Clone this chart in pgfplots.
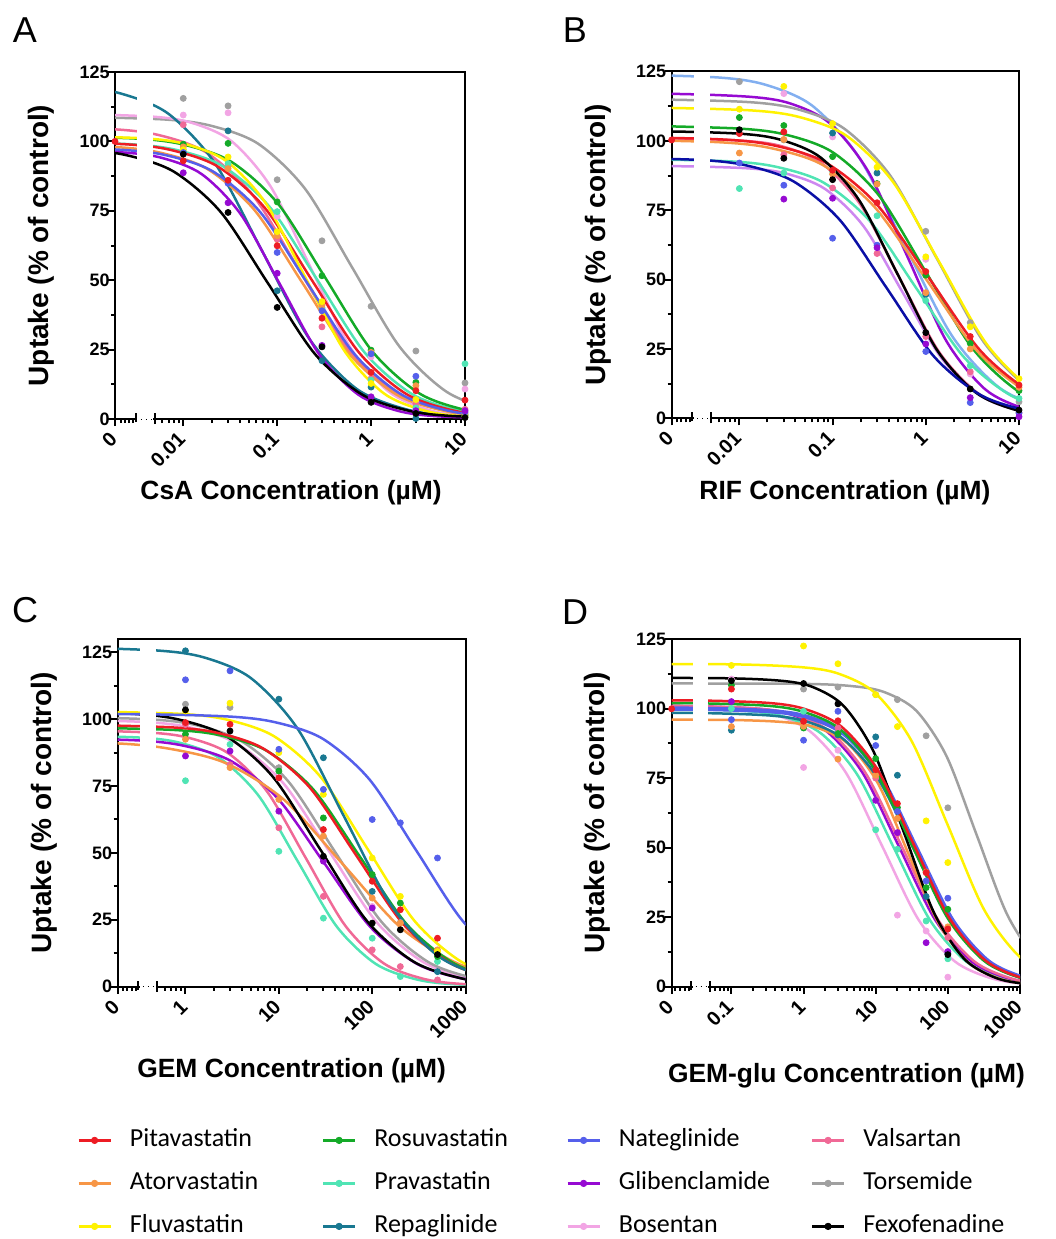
\documentclass[border=0pt]{standalone}
\usepackage{pgfplots}
\pgfplotsset{compat=1.18}
\usepackage{fontspec}
\setmainfont{Liberation Sans}
\newfontfamily\carlito{Carlito}

\definecolor{cPita}{RGB}{237,28,36}
\definecolor{cAtor}{RGB}{247,150,70}
\definecolor{cFluv}{RGB}{255,242,0}
\definecolor{cRosu}{RGB}{20,170,40}
\definecolor{cPrav}{RGB}{80,228,180}
\definecolor{cRepa}{RGB}{25,120,145}
\definecolor{cNate}{RGB}{85,95,235}
\definecolor{cGlib}{RGB}{150,10,210}
\definecolor{cBose}{RGB}{242,165,228}
\definecolor{cVals}{RGB}{240,105,150}
\definecolor{cTors}{RGB}{160,160,160}
\definecolor{cFexo}{RGB}{0,0,0}
\definecolor{cLBlue}{RGB}{130,175,240}
\definecolor{cNavy}{RGB}{10,15,165}
\definecolor{cLav}{RGB}{205,135,240}

\pgfplotsset{
  panel/.style={
    scale only axis,
    ymin=0,
    ytick={0,25,50,75,100,125},
    minor ytick={12.5,37.5,62.5,87.5,112.5},
    axis line style={line width=1pt},
    tick style={black, line width=1pt},
    tick align=outside,
    xtick pos=bottom, ytick pos=left,
    major tick length=3.5pt, minor tick length=2pt,
    yticklabel style={font=\bfseries\fontsize{9}{11}\selectfont, inner sep=1pt, xshift=2pt},
    xticklabel style={font=\bfseries\fontsize{10}{12}\selectfont, rotate=45, anchor=east, inner sep=1pt},
    xticklabel shift=4pt,
    /pgf/number format/assume math mode=true,
    xlabel style={font=\bfseries\fontsize{13.2}{15}\selectfont, anchor=center},
    ylabel style={font=\bfseries\fontsize{14}{16}\selectfont, anchor=center},
    extra x tick style={major tick length=2pt},
  },
  crv/.style={smooth, line width=1.25pt, mark=none},
  pts/.style={only marks, mark=*, mark size=1.5pt},
}

\begin{document}
\begin{tikzpicture}
\path (0pt,0pt) rectangle (514.5pt,-619.5pt);

% ---------------- Panel A ----------------
\begin{axis}[panel, at={(57.5pt,-209.5pt)}, anchor=south west, width=175pt, height=173.5pt,
  xmin=-2.727, xmax=1, ymax=125,
  xtick={-2.727,-2,-1,0,1}, xticklabels={0,0.01,0.1,1,10},
  minor xtick={-2.222,-2.155,-2.097,-2.046,-1.699,-1.523,-1.398,-1.301,-1.222,-1.155,-1.097,-1.046,-0.699,-0.523,-0.398,-0.301,-0.222,-0.155,-0.097,-0.046,0.301,0.477,0.602,0.699,0.778,0.845,0.903,0.954},
  extra x ticks={-2.666,-2.621,-2.575,-2.532}, extra x tick labels={,,,},
  xlabel={CsA Concentration (µM)}, ylabel={Uptake (\% of control)},
  xlabel style={at={(axis description cs:0.503,-0.213)}},
  ylabel style={at={(axis description cs:-0.21,0.5)}}]
\addplot[crv, cTors] coordinates {(-3.2,108.9) (-2.2,107.9) (-1.7,105.6) (-1.2,99.1) (-0.7,82.8) (-0.2,54.5) (0.3,26.2) (0.8,9.9) (1.3,3.4) (1.8,1.1) (2.8,0.1)};
\addplot[crv, cBose] coordinates {(-3.15,109.9) (-2.317,108.9) (-1.9,106.6) (-1.483,100.0) (-1.067,83.6) (-0.65,55.0) (-0.233,26.4) (0.183,10.0) (0.6,3.4) (1.017,1.1) (1.85,0.1)};
\addplot[crv, cVals] coordinates {(-3.75,105.4) (-2.75,104.4) (-2.25,102.2) (-1.75,95.9) (-1.25,80.2) (-0.75,52.8) (-0.25,25.3) (0.25,9.6) (0.75,3.3) (1.25,1.1) (2.25,0.1)};
\addplot[crv, cRepa] coordinates {(-4.16,120.9) (-3.16,119.8) (-2.66,117.2) (-2.16,110.0) (-1.66,92.0) (-1.16,60.5) (-0.66,29.0) (-0.16,11.0) (0.34,3.8) (0.84,1.2) (1.84,0.1)};
\addplot[crv, cPrav] coordinates {(-3.57,99.9) (-2.57,99.0) (-2.07,96.9) (-1.57,90.9) (-1.07,76.0) (-0.57,50.0) (-0.07,24.0) (0.43,9.1) (0.93,3.1) (1.43,1.0) (2.43,0.1)};
\addplot[crv, cRosu] coordinates {(-3.49,101.9) (-2.49,101.0) (-1.99,98.8) (-1.49,92.7) (-0.99,77.5) (-0.49,51.0) (0.01,24.5) (0.51,9.3) (1.01,3.2) (1.51,1.0) (2.51,0.1)};
\addplot[crv, cPita] coordinates {(-3.63,99.9) (-2.63,99.0) (-2.13,96.9) (-1.63,90.9) (-1.13,76.0) (-0.63,50.0) (-0.13,24.0) (0.37,9.1) (0.87,3.1) (1.37,1.0) (2.37,0.1)};
\addplot[crv, cAtor] coordinates {(-3.74,98.9) (-2.74,98.0) (-2.24,95.9) (-1.74,90.0) (-1.24,75.2) (-0.74,49.5) (-0.24,23.8) (0.26,9.0) (0.76,3.1) (1.26,1.0) (2.26,0.1)};
\addplot[crv, cFluv] coordinates {(-3.2,101.9) (-2.367,101.0) (-1.95,98.8) (-1.533,92.7) (-1.117,77.5) (-0.7,51.0) (-0.283,24.5) (0.133,9.3) (0.55,3.2) (0.967,1.0) (1.8,0.1)};
\addplot[crv, cNate] coordinates {(-3.68,97.9) (-2.68,97.0) (-2.18,95.0) (-1.68,89.1) (-1.18,74.5) (-0.68,49.0) (-0.18,23.5) (0.32,8.9) (0.82,3.0) (1.32,1.0) (2.32,0.1)};
\addplot[crv, cGlib] coordinates {(-3.47,96.9) (-2.637,96.0) (-2.22,94.0) (-1.803,88.2) (-1.387,73.7) (-0.97,48.5) (-0.553,23.3) (-0.137,8.8) (0.28,3.0) (0.697,1.0) (1.53,0.1)};
\addplot[crv, cFexo] coordinates {(-4.1,97.9) (-3.1,97.0) (-2.6,95.0) (-2.1,89.1) (-1.6,74.5) (-1.1,49.0) (-0.6,23.5) (-0.1,8.9) (0.4,3.0) (0.9,1.0) (1.9,0.1)};
\addplot[pts, cTors] coordinates {(-2,115.5) (-1.523,112.8) (-1,86.2) (-0.523,64.2) (0,40.6) (0.477,24.5) (1,13)};
\addplot[pts, cBose] coordinates {(-2,109.5) (-1.523,110.3) (-1,73) (-0.523,40) (0,22.4) (0.477,6) (1,10.8)};
\addplot[pts, cVals] coordinates {(-2,106) (-1.523,91) (-1,64.8) (-0.523,33.2) (0,14.5) (0.477,5.5) (1,3.5)};
\addplot[pts, cRepa] coordinates {(-2,96) (-1.523,103.8) (-1,46.2) (-0.523,21) (0,11.5) (0.477,0.2) (1,1)};
\addplot[pts, cPrav] coordinates {(-2,97) (-1.523,92) (-1,74.7) (-0.523,40) (0,14) (0.477,4) (1,19.9)};
\addplot[pts, cRosu] coordinates {(-2,99) (-1.523,99.3) (-1,78.2) (-0.523,51.6) (0,24.8) (0.477,13.2) (1,1.5)};
\addplot[pts, cAtor] coordinates {(-2,98) (-1.523,90.2) (-1,66) (-0.523,41) (0,24) (0.477,12) (1,2)};
\addplot[pts, cFluv] coordinates {(-2,97) (-1.523,94.4) (-1,67.5) (-0.523,42.3) (0,12.8) (0.477,7) (1,0.8)};
\addplot[pts, cNate] coordinates {(-2,96) (-1.523,84.9) (-1,60) (-0.523,39) (0,23.5) (0.477,15.4) (1,2.5)};
\addplot[pts, cGlib] coordinates {(-2,88.7) (-1.523,77.9) (-1,52.5) (-0.523,26.5) (0,8) (0.477,3) (1,3)};
\addplot[pts, cPita] coordinates {(-2.727,100) (-2,93) (-1.523,86) (-1,62.4) (-0.523,36.3) (0,16.8) (0.477,10.2) (1,6.8)};
\addplot[pts, cFexo] coordinates {(-2,95.4) (-1.523,74.4) (-1,40.2) (-0.523,26) (0,6) (0.477,2) (1,0.5)};
\coordinate (gA1) at (axis cs:-2.49,-1.2);
\coordinate (gA2) at (axis cs:-2.32,124.4);
\coordinate (bA1) at (axis cs:-2.504,0);
\coordinate (bA2) at (axis cs:-2.301,0);
\end{axis}
\fill[white] (gA1) rectangle (gA2);
\draw[line width=0.5pt, dotted] (bA1) -- (bA2);
\draw[line width=1pt] ([yshift=-1.5pt]bA1) -- ([yshift=3pt]bA1);
\draw[line width=1pt] ([yshift=-2.5pt]bA2) -- ([yshift=3pt]bA2);

% ---------------- Panel B ----------------
\begin{axis}[panel, at={(335.8pt,-209.2pt)}, anchor=south west, width=173.7pt, height=173.5pt,
  xmin=-2.727, xmax=1, ymax=125,
  xtick={-2.727,-2,-1,0,1}, xticklabels={0,0.01,0.1,1,10},
  minor xtick={-2.222,-2.155,-2.097,-2.046,-1.699,-1.523,-1.398,-1.301,-1.222,-1.155,-1.097,-1.046,-0.699,-0.523,-0.398,-0.301,-0.222,-0.155,-0.097,-0.046,0.301,0.477,0.602,0.699,0.778,0.845,0.903,0.954},
  extra x ticks={-2.666,-2.621,-2.575,-2.532}, extra x tick labels={,,,},
  xlabel={RIF Concentration (µM)}, ylabel={Uptake (\% of control)},
  xlabel style={at={(axis description cs:0.499,-0.213)}},
  ylabel style={at={(axis description cs:-0.212,0.5)}}]
\addplot[crv, cVals] coordinates {(-4,101) (-2.78,100.9) (-1.947,100.0) (-1.53,97.9) (-1.113,91.8) (-0.697,76.8) (-0.28,50.5) (0.137,24.2) (0.553,9.2) (0.97,3.1) (1.387,1.0) (2.22,0.1)};
\addplot[crv, cLBlue] coordinates {(-3.22,123.9) (-2.22,122.8) (-1.72,120.2) (-1.22,112.7) (-0.72,94.2) (-0.22,62.0) (0.28,29.8) (0.78,11.3) (1.28,3.8) (1.78,1.2) (2.78,0.1)};
\addplot[crv, cGlib] coordinates {(-4,117) (-2.7,116.9) (-1.867,115.8) (-1.45,113.4) (-1.033,106.4) (-0.617,88.9) (-0.2,58.5) (0.217,28.1) (0.633,10.6) (1.05,3.6) (1.467,1.2) (2.3,0.1)};
\addplot[crv, cTors] coordinates {(-4,115) (-2.88,114.9) (-1.88,113.9) (-1.38,111.4) (-0.88,104.5) (-0.38,87.4) (0.12,57.5) (0.62,27.6) (1.12,10.5) (1.62,3.6) (2.12,1.2) (3.12,0.1)};
\addplot[crv, cFluv] coordinates {(-4,112) (-2.85,111.9) (-1.85,110.9) (-1.35,108.5) (-0.85,101.8) (-0.35,85.1) (0.15,56.0) (0.65,26.9) (1.15,10.2) (1.65,3.5) (2.15,1.1) (3.15,0.1)};
\addplot[crv, cRosu] coordinates {(-3,105.4) (-2,104.4) (-1.5,102.2) (-1,95.9) (-0.5,80.2) (0,52.8) (0.5,25.3) (1,9.6) (1.5,3.3) (2,1.1) (3,0.1)};
\addplot[crv, cAtor] coordinates {(-3.333,100.4) (-2.222,99.5) (-1.667,97.4) (-1.111,91.4) (-0.556,76.4) (0,50.3) (0.556,24.1) (1.111,9.1) (1.667,3.1) (2.222,1.0) (3.333,0.1)};
\addplot[crv, cPita] coordinates {(-3.303,101.4) (-2.192,100.5) (-1.637,98.4) (-1.081,92.3) (-0.526,77.1) (0.03,50.8) (0.586,24.4) (1.141,9.2) (1.697,3.1) (2.252,1.0) (3.363,0.1)};
\addplot[crv, cPrav] coordinates {(-3.1,93.4) (-2.1,92.6) (-1.6,90.6) (-1.1,85.0) (-0.6,71.1) (-0.1,46.8) (0.4,22.4) (0.9,8.5) (1.4,2.9) (1.9,0.9) (2.9,0.1)};
\addplot[crv, cLav] coordinates {(-4,91) (-2.75,90.9) (-1.917,90.1) (-1.5,88.2) (-1.083,82.7) (-0.667,69.2) (-0.25,45.5) (0.167,21.8) (0.583,8.3) (1.0,2.8) (1.417,0.9) (2.25,0.1)};
\addplot[crv, cFexo] coordinates {(-4,103.5) (-2.8,103.4) (-1.967,102.5) (-1.55,100.3) (-1.133,94.1) (-0.717,78.7) (-0.3,51.8) (0.117,24.8) (0.533,9.4) (0.95,3.2) (1.367,1.0) (2.2,0.1)};
\addplot[crv, cNavy] coordinates {(-3.42,93.9) (-2.42,93.1) (-1.92,91.1) (-1.42,85.4) (-0.92,71.4) (-0.42,47.0) (0.08,22.6) (0.58,8.6) (1.08,2.9) (1.58,0.9) (2.58,0.1)};
\addplot[pts, cTors] coordinates {(-2,121.3) (-1.523,100.3) (0,67.4) (0.477,34.5) (1,6)};
\addplot[pts, cBose] coordinates {(-1.523,117) (-1,101.4) (0,57.3) (0.477,16)};
\addplot[pts, cVals] coordinates {(-1.523,95) (-1,83) (-0.523,59.4) (0,29.5) (0.477,16.8) (1,2)};
\addplot[pts, cRepa] coordinates {(-1,102.8) (-0.523,88.4) (0,44.6)};
\addplot[pts, cPrav] coordinates {(-2,82.8) (-1.523,88.4) (-1,89) (-0.523,73) (0,42.4) (0.477,19) (1,7.2)};
\addplot[pts, cRosu] coordinates {(-2,108.4) (-1.523,105.5) (-1,94.3) (-0.523,84.6) (0,51.6) (0.477,27) (1,10)};
\addplot[pts, cAtor] coordinates {(-2,95.6) (-1.523,100.5) (-1,88) (-0.523,84.4) (0,45.3) (0.477,25) (1,11.2)};
\addplot[pts, cFluv] coordinates {(-2,111.4) (-1.523,119.6) (-1,106.2) (-0.523,90.5) (0,58.2) (0.477,33) (1,14.3)};
\addplot[pts, cNate] coordinates {(-2,92) (-1.523,84) (-1,64.9) (-0.523,62.4) (0,24.1) (0.477,5.7) (1,2)};
\addplot[pts, cGlib] coordinates {(-1.523,79) (-1,79.3) (-0.523,61.5) (0,26.8) (0.477,7.5) (1,0.6)};
\addplot[pts, cPita] coordinates {(-2.727,100.3) (-2,102.6) (-1.523,103.2) (-1,89.4) (-0.523,77.7) (0,52.9) (0.477,29.5) (1,12)};
\addplot[pts, cFexo] coordinates {(-2,104) (-1.523,93.7) (-1,86) (0,30.9) (0.477,10.6) (1,3)};
\coordinate (gB1) at (axis cs:-2.49,-1.2);
\coordinate (gB2) at (axis cs:-2.32,124.4);
\coordinate (bB1) at (axis cs:-2.504,0);
\coordinate (bB2) at (axis cs:-2.301,0);
\end{axis}
\fill[white] (gB1) rectangle (gB2);
\draw[line width=0.5pt, dotted] (bB1) -- (bB2);
\draw[line width=1pt] ([yshift=-1.5pt]bB1) -- ([yshift=3pt]bB1);
\draw[line width=1pt] ([yshift=-2.5pt]bB2) -- ([yshift=3pt]bB2);

% ---------------- Panel C ----------------
\begin{axis}[panel, at={(58.8pt,-493.3pt)}, anchor=south west, width=174pt, height=173.8pt,
  xmin=-0.727, xmax=3, ymax=130,
  xtick={-0.727,0,1,2,3}, xticklabels={0,1,10,100,1000},
  minor xtick={-0.222,-0.155,-0.097,-0.046,0.301,0.477,0.602,0.699,0.778,0.845,0.903,0.954,1.301,1.477,1.602,1.699,1.778,1.845,1.903,1.954,2.301,2.477,2.602,2.699,2.778,2.845,2.903,2.954},
  extra x ticks={-0.666,-0.621,-0.575,-0.532}, extra x tick labels={,,,},
  xlabel={GEM Concentration (µM)}, ylabel={Uptake (\% of control)},
  xlabel style={at={(axis description cs:0.5,-0.241)}},
  ylabel style={at={(axis description cs:-0.212,0.5)}}]
\addplot[crv, cBose] coordinates {(-1.45,99.9) (-0.45,99.0) (0.05,96.9) (0.55,90.9) (1.05,76.0) (1.55,50.0) (2.05,24.0) (2.55,9.1) (3.05,3.1) (3.55,1.0) (4.55,0.1)};
\addplot[crv, cTors] coordinates {(-1.4,100.9) (-0.4,100.0) (0.1,97.9) (0.6,91.8) (1.1,76.8) (1.6,50.5) (2.1,24.2) (2.6,9.2) (3.1,3.1) (3.6,1.0) (4.6,0.1)};
\addplot[crv, cPrav] coordinates {(-1.3,93.9) (-0.467,93.1) (-0.05,91.1) (0.367,85.4) (0.783,71.4) (1.2,47.0) (1.617,22.6) (2.033,8.6) (2.45,2.9) (2.867,0.9) (3.7,0.1)};
\addplot[crv, cVals] coordinates {(-1.21,95.9) (-0.377,95.0) (0.04,93.0) (0.457,87.3) (0.873,73.0) (1.29,48.0) (1.707,23.0) (2.123,8.7) (2.54,3.0) (2.957,1.0) (3.79,0.1)};
\addplot[crv, cGlib] coordinates {(-1.52,92.9) (-0.52,92.1) (-0.02,90.1) (0.48,84.5) (0.98,70.7) (1.48,46.5) (1.98,22.3) (2.48,8.5) (2.98,2.9) (3.48,0.9) (4.48,0.1)};
\addplot[crv, cAtor] coordinates {(-2.07,91.9) (-0.82,91.1) (-0.195,89.1) (0.43,83.6) (1.055,69.9) (1.68,46.0) (2.305,22.1) (2.93,8.4) (3.555,2.9) (4.18,0.9) (5.43,0.1)};
\addplot[crv, cFexo] coordinates {(-1.56,102.9) (-0.56,102.0) (-0.06,99.8) (0.44,93.6) (0.94,78.3) (1.44,51.5) (1.94,24.7) (2.44,9.4) (2.94,3.2) (3.44,1.0) (4.44,0.1)};
\addplot[crv, cRosu] coordinates {(-1.13,96.9) (-0.13,96.0) (0.37,94.0) (0.87,88.2) (1.37,73.7) (1.87,48.5) (2.37,23.3) (2.87,8.8) (3.37,3.0) (3.87,1.0) (4.87,0.1)};
\addplot[crv, cPita] coordinates {(-1.17,97.9) (-0.17,97.0) (0.33,95.0) (0.83,89.1) (1.33,74.5) (1.83,49.0) (2.33,23.5) (2.83,8.9) (3.33,3.0) (3.83,1.0) (4.83,0.1)};
\addplot[crv, cFluv] coordinates {(-1.05,102.9) (-0.05,102.0) (0.45,99.8) (0.95,93.6) (1.45,78.3) (1.95,51.5) (2.45,24.7) (2.95,9.4) (3.45,3.2) (3.95,1.0) (4.95,0.1)};
\addplot[crv, cRepa] coordinates {(-1.3,126.9) (-0.3,125.7) (0.2,123.1) (0.7,115.4) (1.2,96.5) (1.7,63.5) (2.2,30.5) (2.7,11.6) (3.2,3.9) (3.7,1.3) (4.7,0.1)};
\addplot[crv, cNate] coordinates {(-2,102) (-0.53,101.9) (0.47,101.0) (0.97,98.8) (1.47,92.7) (1.97,77.5) (2.47,51.0) (2.97,24.5) (3.47,9.3) (3.97,3.2) (4.47,1.0) (5.47,0.1)};
\addplot[pts, cTors] coordinates {(0,105.6) (0.477,104.4) (1,81.9) (2.301,24)};
\addplot[pts, cBose] coordinates {(1,78) (2,30)};
\addplot[pts, cVals] coordinates {(0,98) (0.477,83) (1,59.4) (1.477,33.75) (2,13.75) (2.301,7.5) (2.699,2.5)};
\addplot[pts, cRepa] coordinates {(0,125.6) (1,107.5) (1.477,85.6) (2,35.6) (2.699,5.6)};
\addplot[pts, cPrav] coordinates {(0,77) (0.477,90.6) (1,50.6) (1.477,25.6) (2,18.1) (2.301,3.75) (2.699,9.4)};
\addplot[pts, cRosu] coordinates {(0,94.4) (1,80.6) (1.477,63.1) (2,41.9) (2.301,31.25) (2.699,11.25)};
\addplot[pts, cAtor] coordinates {(0,92.5) (0.477,81.9) (1,70) (1.477,56.3) (2,33.1) (2.301,23.75) (2.699,13.75)};
\addplot[pts, cFluv] coordinates {(0,103.1) (0.477,106) (1,87.5) (1.477,71.9) (2,48.1) (2.301,33.75) (2.699,13.1)};
\addplot[pts, cNate] coordinates {(0,114.75) (0.477,118.1) (1,88.75) (1.477,73.75) (2,62.5) (2.301,61.25) (2.699,48.1)};
\addplot[pts, cGlib] coordinates {(0,86.25) (0.477,88.1) (1,65.6) (1.477,46.9) (2,29.4)};
\addplot[pts, cPita] coordinates {(0,98.75) (0.477,98.1) (1,78.1) (1.477,58.75) (2,39.4) (2.301,28.75) (2.699,18.1)};
\addplot[pts, cFexo] coordinates {(0,103.5) (0.477,95.6) (1.477,48.75) (2,23.75) (2.301,21.25) (2.699,12)};
\coordinate (gC1) at (axis cs:-0.49,-1.2);
\coordinate (gC2) at (axis cs:-0.32,129.4);
\coordinate (bC1) at (axis cs:-0.51,0);
\coordinate (bC2) at (axis cs:-0.301,0);
\end{axis}
\fill[white] (gC1) rectangle (gC2);
\draw[line width=0.5pt, dotted] (bC1) -- (bC2);
\draw[line width=1pt] ([yshift=-1.5pt]bC1) -- ([yshift=3pt]bC1);
\draw[line width=1pt] ([yshift=-2.5pt]bC2) -- ([yshift=3pt]bC2);

% ---------------- Panel D ----------------
\begin{axis}[panel, at={(335.8pt,-493.3pt)}, anchor=south west, width=174.2pt, height=173.8pt,
  xmin=-1.829, xmax=3, ymax=125,
  xtick={-1.829,-1,0,1,2,3}, xticklabels={0,0.1,1,10,100,1000},
  minor xtick={-1.222,-1.155,-1.097,-1.046,-0.699,-0.523,-0.398,-0.301,-0.222,-0.155,-0.097,-0.046,0.301,0.477,0.602,0.699,0.778,0.845,0.903,0.954,1.301,1.477,1.602,1.699,1.778,1.845,1.903,1.954,2.301,2.477,2.602,2.699,2.778,2.845,2.903,2.954},
  extra x ticks={-1.783,-1.714,-1.645,-1.589}, extra x tick labels={,,,},
  xlabel={GEM-glu Concentration (µM)}, ylabel={Uptake (\% of control)},
  xlabel style={at={(axis description cs:0.502,-0.256)}},
  ylabel style={at={(axis description cs:-0.212,0.5)}}]
\addplot[crv, cTors] coordinates {(-3,109) (-0.1,108.9) (0.733,107.9) (1.15,105.6) (1.567,99.1) (1.983,82.8) (2.4,54.5) (2.817,26.2) (3.233,9.9) (3.65,3.4) (4.067,1.1) (4.9,0.1)};
\addplot[crv, cFluv] coordinates {(-3,116) (-1,115.9) (0,114.8) (0.5,112.4) (1,105.4) (1.5,88.2) (2,58.0) (2.5,27.8) (3,10.6) (3.5,3.6) (4,1.2) (5,0.1)};
\addplot[crv, cBose] coordinates {(-3,101) (-1.91,100.9) (-0.91,100.0) (-0.41,97.9) (0.09,91.8) (0.59,76.8) (1.09,50.5) (1.59,24.2) (2.09,9.2) (2.59,3.1) (3.09,1.0) (4.09,0.1)};
\addplot[crv, cPrav] coordinates {(-3,100) (-1.75,99.9) (-0.75,99.0) (-0.25,96.9) (0.25,90.9) (0.75,76.0) (1.25,50.0) (1.75,24.0) (2.25,9.1) (2.75,3.1) (3.25,1.0) (4.25,0.1)};
\addplot[crv, cGlib] coordinates {(-3,101) (-1.68,100.9) (-0.68,100.0) (-0.18,97.9) (0.32,91.8) (0.82,76.8) (1.32,50.5) (1.82,24.2) (2.32,9.2) (2.82,3.1) (3.32,1.0) (4.32,0.1)};
\addplot[crv, cVals] coordinates {(-3,101) (-1.64,100.9) (-0.64,100.0) (-0.14,97.9) (0.36,91.8) (0.86,76.8) (1.36,50.5) (1.86,24.2) (2.36,9.2) (2.86,3.1) (3.36,1.0) (4.36,0.1)};
\addplot[crv, cAtor] coordinates {(-3,96) (-1.05,95.9) (-0.217,95.0) (0.2,93.0) (0.617,87.3) (1.033,73.0) (1.45,48.0) (1.867,23.0) (2.283,8.7) (2.7,3.0) (3.117,1.0) (3.95,0.1)};
\addplot[crv, cNate, line width=2.2pt] coordinates {(-3,100) (-1.44,99.9) (-0.44,99.0) (0.06,96.9) (0.56,90.9) (1.06,76.0) (1.56,50.0) (2.06,24.0) (2.56,9.1) (3.06,3.1) (3.56,1.0) (4.56,0.1)};
\addplot[crv, cRepa] coordinates {(-3,98.5) (-1.47,98.4) (-0.47,97.5) (0.03,95.4) (0.53,89.5) (1.03,74.9) (1.53,49.3) (2.03,23.6) (2.53,9.0) (3.03,3.1) (3.53,1.0) (4.53,0.1)};
\addplot[crv, cFexo] coordinates {(-3,111) (-1.11,110.9) (-0.277,109.9) (0.14,107.6) (0.557,100.9) (0.973,84.4) (1.39,55.5) (1.807,26.6) (2.223,10.1) (2.64,3.4) (3.057,1.1) (3.89,0.1)};
\addplot[crv, cRosu] coordinates {(-3,102) (-1.5,101.9) (-0.5,101.0) (0,98.8) (0.5,92.7) (1,77.5) (1.5,51.0) (2,24.5) (2.5,9.3) (3,3.2) (3.5,1.0) (4.5,0.1)};
\addplot[crv, cPita] coordinates {(-3,103) (-1.48,102.9) (-0.48,102.0) (0.02,99.8) (0.52,93.6) (1.02,78.3) (1.52,51.5) (2.02,24.7) (2.52,9.4) (3.02,3.2) (3.52,1.0) (4.52,0.1)};
\addplot[pts, cTors] coordinates {(0,107) (0.477,107.7) (1,105) (1.301,103.2) (1.699,90.2) (2,64.3)};
\addplot[pts, cBose] coordinates {(-1,110.6) (0,78.8) (0.477,85) (1,67) (1.301,25.7) (1.699,20) (2,3.4)};
\addplot[pts, cVals] coordinates {(0.477,93) (1,75) (1.301,55) (2,17.7)};
\addplot[pts, cRepa] coordinates {(-1,92.2) (0.477,90.5) (1,89.8) (1.301,76) (1.699,32.4) (2,12)};
\addplot[pts, cPrav] coordinates {(-1,100) (0,99) (1,56.4) (1.301,49.4) (1.699,23.6) (2,10)};
\addplot[pts, cRosu] coordinates {(-1,108.4) (0,93) (0.477,91) (1,82) (1.301,64.4) (1.699,35.6) (2,27.8)};
\addplot[pts, cAtor] coordinates {(-1,93.5) (0,93.6) (0.477,81.8) (1,76) (1.301,60.5) (1.699,41.2) (2,21.5)};
\addplot[pts, cFluv] coordinates {(-1,115.5) (0,122.5) (0.477,116.1) (1,105) (1.301,93.5) (1.699,59.6) (2,44.6)};
\addplot[pts, cNate] coordinates {(-1,96) (0,88.6) (0.477,99) (1,86.7) (1.301,63) (1.699,38) (2,31.8)};
\addplot[pts, cGlib] coordinates {(-1,102.5) (1,67) (1.301,55.4) (1.699,15.8) (2,12.6)};
\addplot[pts, cPita] coordinates {(-1.829,99.9) (-1,107) (0,95.4) (0.477,95.6) (1,78) (1.301,65.8) (1.699,41) (2,20.7)};
\addplot[pts, cFexo] coordinates {(-1,110) (0,109) (0.477,101.7) (2,11.5)};
\coordinate (gD1) at (axis cs:-1.535,-1.2);
\coordinate (gD2) at (axis cs:-1.32,124.4);
\coordinate (bD1) at (axis cs:-1.566,0);
\coordinate (bD2) at (axis cs:-1.301,0);
\end{axis}
\fill[white] (gD1) rectangle (gD2);
\draw[line width=0.5pt, dotted] (bD1) -- (bD2);
\draw[line width=1pt] ([yshift=-1.5pt]bD1) -- ([yshift=3pt]bD1);
\draw[line width=1pt] ([yshift=-2.5pt]bD2) -- ([yshift=3pt]bD2);

% panel letters
\node[font=\fontsize{18}{20}\selectfont] at (12.5pt,-15pt) {A};
\node[font=\fontsize{18}{20}\selectfont] at (287.5pt,-15pt) {B};
\node[font=\fontsize{18}{20}\selectfont] at (12.5pt,-305pt) {C};
\node[font=\fontsize{18}{20}\selectfont] at (287.5pt,-306pt) {D};

% ---------------- Legend ----------------
\begin{axis}[at={(0pt,0pt)}, anchor=north west, scale only axis, width=514.5pt, height=619.5pt,
  hide axis, xmin=0, xmax=1, ymin=0, ymax=1,
  legend columns=4,
  legend cell align=left,
  legend style={at={(0.0748,0.0896)}, anchor=north west, draw=none, fill=none, inner sep=0pt,
    row sep=9.5pt, column sep=0pt,
    nodes={inner sep=0pt, text height=9pt, text depth=3pt, font=\carlito\fontsize{13}{15}\selectfont}},
  legend image code/.code={\draw[#1, line width=1.25pt] (0pt,0pt) -- (16pt,0pt); \fill[#1] (8pt,0pt) circle (1.6pt);},
]
\addlegendimage{cPita}\addlegendentry{\makebox[105pt][l]{\hspace*{9pt}Pitavastatin}}
\addlegendimage{cRosu}\addlegendentry{\makebox[105pt][l]{\hspace*{9pt}Rosuvastatin}}
\addlegendimage{cNate}\addlegendentry{\makebox[105pt][l]{\hspace*{9pt}Nateglinide}}
\addlegendimage{cVals}\addlegendentry{\makebox[105pt][l]{\hspace*{9pt}Valsartan}}
\addlegendimage{cAtor}\addlegendentry{\makebox[105pt][l]{\hspace*{9pt}Atorvastatin}}
\addlegendimage{cPrav}\addlegendentry{\makebox[105pt][l]{\hspace*{9pt}Pravastatin}}
\addlegendimage{cGlib}\addlegendentry{\makebox[105pt][l]{\hspace*{9pt}Glibenclamide}}
\addlegendimage{cTors}\addlegendentry{\makebox[105pt][l]{\hspace*{9pt}Torsemide}}
\addlegendimage{cFluv}\addlegendentry{\makebox[105pt][l]{\hspace*{9pt}Fluvastatin}}
\addlegendimage{cRepa}\addlegendentry{\makebox[105pt][l]{\hspace*{9pt}Repaglinide}}
\addlegendimage{cBose}\addlegendentry{\makebox[105pt][l]{\hspace*{9pt}Bosentan}}
\addlegendimage{cFexo}\addlegendentry{\makebox[105pt][l]{\hspace*{9pt}Fexofenadine}}
\end{axis}
\end{tikzpicture}
\end{document}
